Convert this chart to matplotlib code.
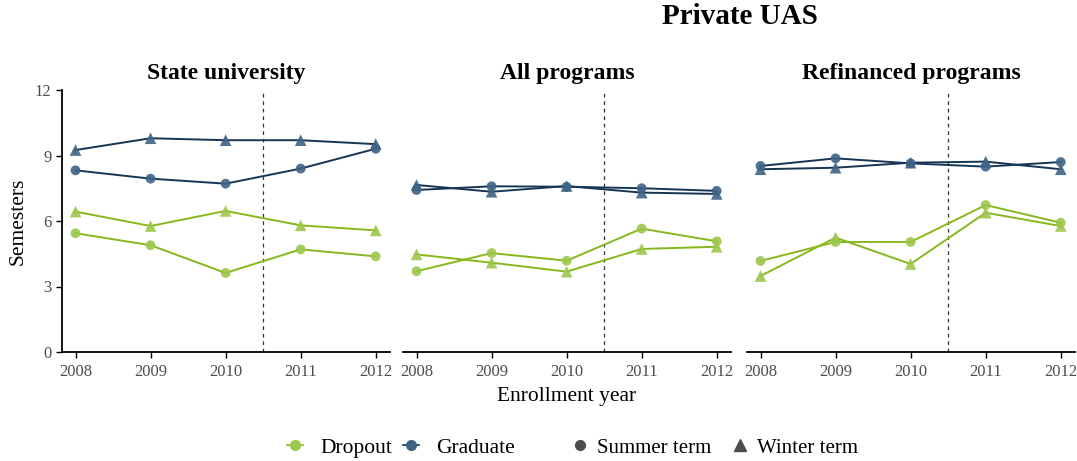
import matplotlib.pyplot as plt
from matplotlib.lines import Line2D

plt.rcParams['font.family'] = ['Liberation Serif', 'DejaVu Serif']

years = [2008, 2009, 2010, 2011, 2012]
panels = ['State university', 'All programs', 'Refinanced programs']

grad_winter = [[9.25, 9.79, 9.70, 9.70, 9.52],
               [7.65, 7.34, 7.60, 7.30, 7.24],
               [8.37, 8.44, 8.67, 8.72, 8.37]]
grad_summer = [[8.32, 7.94, 7.71, 8.40, 9.31],
               [7.42, 7.59, 7.57, 7.50, 7.38],
               [8.52, 8.87, 8.64, 8.49, 8.70]]
drop_winter = [[6.43, 5.77, 6.46, 5.80, 5.57],
               [4.47, 4.09, 3.68, 4.72, 4.82],
               [3.48, 5.24, 4.03, 6.38, 5.77]]
drop_summer = [[5.44, 4.89, 3.62, 4.70, 4.38],
               [3.70, 4.53, 4.18, 5.65, 5.07],
               [4.17, 5.04, 5.04, 6.73, 5.92]]

green_line = '#86b81e'
green_pt = '#9cc74c'
navy_line = '#163555'
navy_pt = '#3e6384'

fig = plt.figure(figsize=(10.77, 4.61), dpi=100)
lefts = [62, 403, 747]
for i, l in enumerate(lefts):
    ax = fig.add_axes([l / 1077, 1 - 352 / 461, 328 / 1077, 262 / 461])
    series = [(grad_winter[i], navy_line, navy_pt, '^'),
              (grad_summer[i], navy_line, navy_pt, 'o'),
              (drop_winter[i], green_line, green_pt, '^'),
              (drop_summer[i], green_line, green_pt, 'o')]
    for vals, lc, pc, m in series:
        ax.plot(years, vals, color=lc, lw=1.4, zorder=2)
        ax.scatter(years, vals, color=pc, marker=m, s=70 if m == '^' else 50,
                   alpha=0.9, edgecolors='none', zorder=3)
    ax.axvline(2010.5, color='#333333', lw=0.9, ls=(0, (3, 3)), zorder=1)
    ax.set_xlim(2007.82, 2012.19)
    ax.set_ylim(0, 12)
    ax.set_xticks(years)
    ax.set_title(panels[i], fontsize=17, fontweight='bold', pad=8)
    for s in ['top', 'right']:
        ax.spines[s].set_visible(False)
    ax.spines['bottom'].set_linewidth(1.3)
    ax.tick_params(axis='x', labelsize=12, labelcolor='#4d4d4d', length=4,
                   width=1, pad=5)
    if i == 0:
        ax.set_yticks([0, 3, 6, 9, 12])
        ax.spines['left'].set_linewidth(1.3)
        ax.tick_params(axis='y', labelsize=12, labelcolor='#4d4d4d', length=4,
                       width=1)
        ax.set_ylabel('Semesters', fontsize=15.5, labelpad=5)
    else:
        ax.spines['left'].set_visible(False)
        ax.set_yticks([])
    if i == 1:
        ax.set_xlabel('Enrollment year', fontsize=15.5, labelpad=5)

fig.text(740 / 1077, 1 - 16 / 461, 'Private UAS', fontsize=21, fontweight='bold',
         ha='center', va='center')

h1 = [Line2D([], [], color=green_line, marker='o', markerfacecolor=green_pt,
             markeredgecolor='none', markersize=8, lw=1.2),
      Line2D([], [], color=navy_line, marker='o', markerfacecolor=navy_pt,
             markeredgecolor='none', markersize=8, lw=1.2)]
fig.legend(h1, ['Dropout', 'Graduate'], loc='center left', ncol=2,
           bbox_to_anchor=(287 / 1077, 1 - 448 / 461), frameon=False,
           fontsize=15.5, handlelength=0.75, handletextpad=0.8,
           columnspacing=0.5, borderpad=0, borderaxespad=0)
h2 = [Line2D([], [], color='#4d4d4d', marker='o', ls='none', markersize=7),
      Line2D([], [], color='#4d4d4d', marker='^', ls='none', markersize=8)]
fig.legend(h2, ['Summer term', 'Winter term'], loc='center left', ncol=2,
           bbox_to_anchor=(572 / 1077, 1 - 448 / 461), frameon=False,
           fontsize=15, handlelength=0.75, handletextpad=0.45,
           columnspacing=1.0, borderpad=0, borderaxespad=0)

fig.savefig('out.png', dpi=100)
